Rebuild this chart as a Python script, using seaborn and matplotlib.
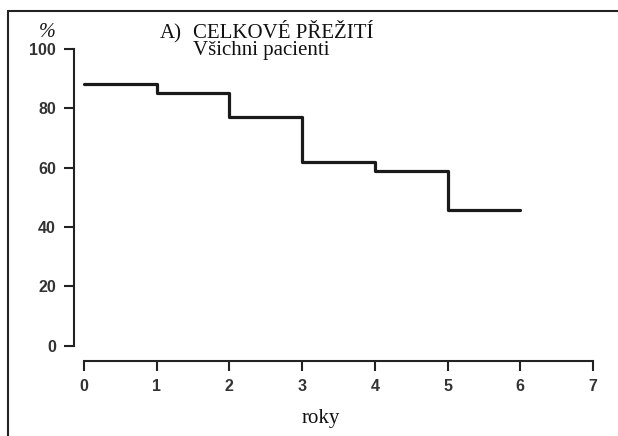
import matplotlib
matplotlib.use("Agg")
import matplotlib.pyplot as plt
from matplotlib.lines import Line2D
import seaborn as sns
import pandas as pd

# Data
years = [0, 1, 2, 3, 4, 5, 6]
survival = [88.2, 85.1, 77.2, 62.0, 59.0, 45.7, 45.7]
xticks = [0, 1, 2, 3, 4, 5, 6, 7]
yticks = [0, 20, 40, 60, 80, 100]
title1 = "CELKOVÉ PŘEŽITÍ"
title2 = "Všichni pacienti"
xlabel = "roky"

sns.set_theme(style="white")
plt.rcParams['font.family'] = ['DejaVu Sans']

W, H = 618, 436
fig = plt.figure(figsize=(W / 100, H / 100), dpi=100)

def fx(px):
    return px / W

def fy(py):
    return 1 - py / H

x0, x7 = 84, 593
y0, y100 = 345.5, 49
ax = fig.add_axes([fx(x0), fy(y0), fx(x7) - fx(x0), fy(y100) - fy(y0)])

df = pd.DataFrame({"years": years, "survival": survival})
sns.lineplot(data=df, x="years", y="survival", drawstyle="steps-post",
             color="#1a1a1a", lw=2.3, ax=ax, clip_on=False)

ax.set_xlim(0, 7)
ax.set_ylim(0, 100)
ax.set_xticks(xticks)
ax.set_yticks(yticks)
ax.set_xlabel("")
ax.set_ylabel("")
ax.set_facecolor("white")

for s in ["top", "right"]:
    ax.spines[s].set_visible(False)
ax.spines["left"].set_position(("outward", 7.2))
ax.spines["bottom"].set_position(("outward", 10.8))
ax.spines["left"].set_bounds(0, 100)
ax.spines["bottom"].set_bounds(0, 7)
for s in ["left", "bottom"]:
    ax.spines[s].set_color("#222222")
    ax.spines[s].set_linewidth(1.5)

ax.tick_params(axis="both", which="major", direction="out", color="#222222",
               width=1.5, labelcolor="#333333", bottom=True, left=True)
ax.tick_params(axis="y", length=7, pad=6)
ax.tick_params(axis="x", length=7.5, pad=6)
for lab in ax.get_xticklabels() + ax.get_yticklabels():
    lab.set_fontfamily("Liberation Sans")
    lab.set_fontweight("bold")
    lab.set_fontsize(11.5)

serif = "Liberation Serif"
fs = 15
fig.text(fx(47), fy(37), "%", family=serif, style="italic", fontsize=14.5,
         ha="center", va="baseline", color="#111111")
fig.text(fx(160), fy(38), "A)", family=serif, fontsize=fs,
         ha="left", va="baseline", color="#111111")
fig.text(fx(193), fy(24), title1 + "\n" + title2, family=serif, fontsize=fs,
         ha="left", va="top", color="#111111", linespacing=0.88)
fig.text(fx(321), fy(423), xlabel, family=serif, fontsize=fs,
         ha="center", va="baseline", color="#111111")

# Frame lines (top and left)
fig.add_artist(Line2D([fx(8), 1.0], [fy(11), fy(11)], transform=fig.transFigure,
                      color="#222222", lw=1.5))
fig.add_artist(Line2D([fx(8), fx(8)], [fy(11), 0.0], transform=fig.transFigure,
                      color="#222222", lw=1.5))

fig.savefig("out.png", dpi=100, facecolor="white")
